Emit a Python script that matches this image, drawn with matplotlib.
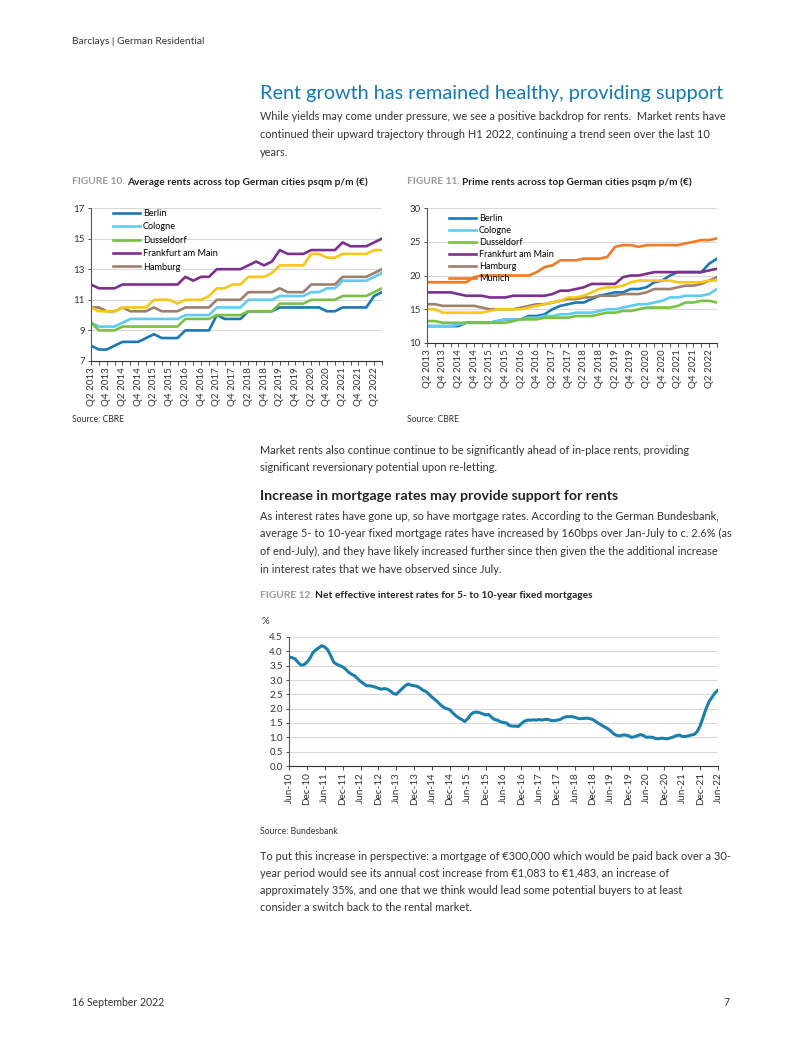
import matplotlib
matplotlib.use("Agg")
import matplotlib.pyplot as plt

plt.rcParams['font.family'] = ['Lato', 'DejaVu Sans']

W, H = 802, 1037

# ---- Figure 10 data: average rents (EUR psqm p/m), Q2 2013 .. Q3 2022
berlin_avg = [8.0, 7.75, 7.75, 8.0, 8.25, 8.25, 8.25, 8.5, 8.75, 8.5, 8.5, 8.5, 9.0, 9.0, 9.0, 9.0,
              10.0, 9.75, 9.75, 9.75, 10.25, 10.25, 10.25, 10.25, 10.5, 10.5, 10.5, 10.5, 10.5, 10.5,
              10.25, 10.25, 10.5, 10.5, 10.5, 10.5, 11.25, 11.5]
cologne_avg = [9.5, 9.25, 9.25, 9.25, 9.5, 9.75, 9.75, 9.75, 9.75, 9.75, 9.75, 9.75, 10.0, 10.0, 10.0, 10.0,
               10.5, 10.5, 10.5, 10.5, 11.0, 11.0, 11.0, 11.0, 11.25, 11.25, 11.25, 11.25, 11.5, 11.5,
               11.75, 11.75, 12.25, 12.25, 12.25, 12.25, 12.5, 12.75]
dussel_avg = [9.5, 9.0, 9.0, 9.0, 9.25, 9.25, 9.25, 9.25, 9.25, 9.25, 9.25, 9.25, 9.75, 9.75, 9.75, 9.75,
              10.0, 10.0, 10.0, 10.0, 10.25, 10.25, 10.25, 10.25, 10.75, 10.75, 10.75, 10.75, 11.0, 11.0,
              11.0, 11.0, 11.25, 11.25, 11.25, 11.25, 11.5, 11.75]
frankfurt_avg = [12.0, 11.75, 11.75, 11.75, 12.0, 12.0, 12.0, 12.0, 12.0, 12.0, 12.0, 12.0, 12.5, 12.25, 12.5, 12.5,
                 13.0, 13.0, 13.0, 13.0, 13.25, 13.5, 13.25, 13.5, 14.25, 14.0, 14.0, 14.0, 14.25, 14.25,
                 14.25, 14.25, 14.75, 14.5, 14.5, 14.5, 14.75, 15.0]
hamburg_avg = [10.5, 10.5, 10.25, 10.25, 10.5, 10.25, 10.25, 10.25, 10.5, 10.25, 10.25, 10.25, 10.5, 10.5, 10.5, 10.5,
               11.0, 11.0, 11.0, 11.0, 11.5, 11.5, 11.5, 11.5, 11.75, 11.5, 11.5, 11.5, 12.0, 12.0,
               12.0, 12.0, 12.5, 12.5, 12.5, 12.5, 12.75, 13.0]
yellow_avg = [10.5, 10.25, 10.25, 10.25, 10.5, 10.5, 10.5, 10.5, 11.0, 11.0, 11.0, 10.75, 11.0, 11.0, 11.0, 11.25,
              11.75, 11.75, 12.0, 12.0, 12.5, 12.5, 12.5, 12.75, 13.25, 13.25, 13.25, 13.25, 14.0, 14.0,
              13.75, 13.75, 14.0, 14.0, 14.0, 14.0, 14.25, 14.25]

# ---- Figure 11 data: prime rents
berlin_prime = [12.5, 12.5, 12.5, 12.5, 12.5, 13.0, 13.0, 13.0, 13.0, 13.25, 13.5, 13.5, 13.5, 14.0, 14.0, 14.25,
                15.0, 15.5, 15.75, 16.0, 16.0, 16.5, 17.0, 17.25, 17.5, 17.5, 18.0, 18.0, 18.25, 19.0,
                19.25, 20.0, 20.5, 20.5, 20.5, 20.5, 21.75, 22.5]
cologne_prime = [12.5, 12.5, 12.5, 12.5, 12.75, 13.0, 13.0, 13.0, 13.0, 13.25, 13.5, 13.5, 13.5, 13.75, 13.75, 14.0,
                 14.0, 14.25, 14.25, 14.5, 14.5, 14.5, 14.75, 15.0, 15.0, 15.25, 15.5, 15.75, 15.75, 16.0,
                 16.25, 16.75, 16.75, 17.0, 17.0, 17.0, 17.25, 18.0]
dussel_prime = [13.25, 13.25, 13.0, 13.0, 13.0, 13.0, 13.0, 13.0, 13.0, 13.0, 13.0, 13.25, 13.5, 13.5, 13.5, 13.75,
                13.75, 13.75, 13.75, 14.0, 14.0, 14.0, 14.25, 14.5, 14.5, 14.75, 14.75, 15.0, 15.25, 15.25,
                15.25, 15.25, 15.5, 16.0, 16.0, 16.25, 16.25, 16.0]
frankfurt_prime = [17.5, 17.5, 17.5, 17.5, 17.25, 17.0, 17.0, 17.0, 16.75, 16.75, 16.75, 17.0, 17.0, 17.0, 17.0, 17.0,
                   17.25, 17.75, 17.75, 18.0, 18.25, 18.75, 18.75, 18.75, 18.75, 19.75, 20.0, 20.0, 20.25, 20.5,
                   20.5, 20.5, 20.5, 20.5, 20.5, 20.5, 20.75, 21.0]
hamburg_prime = [15.75, 15.75, 15.5, 15.5, 15.5, 15.5, 15.5, 15.25, 15.0, 15.0, 15.0, 15.0, 15.25, 15.5, 15.75, 15.75,
                 16.0, 16.25, 16.5, 16.5, 16.75, 16.75, 17.0, 17.0, 17.0, 17.25, 17.25, 17.25, 17.5, 18.0,
                 18.0, 18.0, 18.25, 18.5, 18.5, 18.75, 19.25, 19.75]
munich_prime = [19.0, 19.0, 19.0, 19.0, 19.0, 19.0, 19.75, 20.0, 20.0, 20.0, 20.0, 20.0, 20.0, 20.0, 20.5, 21.25,
                21.5, 22.25, 22.25, 22.25, 22.5, 22.5, 22.5, 22.75, 24.25, 24.5, 24.5, 24.25, 24.5, 24.5,
                24.5, 24.5, 24.5, 24.75, 25.0, 25.25, 25.25, 25.5]
yellow_prime = [15.0, 15.0, 14.5, 14.5, 14.5, 14.5, 14.5, 14.5, 14.75, 15.0, 15.0, 15.0, 15.0, 15.25, 15.5, 15.75,
                16.0, 16.25, 16.75, 16.75, 17.0, 17.5, 18.0, 18.25, 18.25, 18.5, 19.0, 19.25, 19.25, 19.25,
                19.25, 19.25, 19.0, 19.0, 19.0, 19.0, 19.25, 19.25]

quarter_labels = ["Q2 2013", "Q4 2013", "Q2 2014", "Q4 2014", "Q2 2015", "Q4 2015", "Q2 2016", "Q4 2016",
                  "Q2 2017", "Q4 2017", "Q2 2018", "Q4 2018", "Q2 2019", "Q4 2019", "Q2 2020", "Q4 2020",
                  "Q2 2021", "Q4 2021", "Q2 2022"]

# ---- Figure 12 data: mortgage rates (%), monthly Jun-10 .. Jun-22
mortgage = [3.80, 3.78, 3.74, 3.62, 3.52, 3.53, 3.62, 3.75, 3.95, 4.05, 4.12, 4.20, 4.15, 4.05, 3.85, 3.62,
            3.55, 3.50, 3.46, 3.38, 3.27, 3.20, 3.15, 3.05, 2.95, 2.88, 2.80, 2.80, 2.78, 2.75, 2.71, 2.68,
            2.70, 2.68, 2.62, 2.53, 2.50, 2.60, 2.70, 2.80, 2.86, 2.82, 2.80, 2.78, 2.72, 2.64, 2.60, 2.50,
            2.40, 2.32, 2.22, 2.12, 2.04, 2.00, 1.96, 1.85, 1.75, 1.68, 1.62, 1.55, 1.65, 1.80, 1.87, 1.88,
            1.86, 1.82, 1.78, 1.80, 1.70, 1.62, 1.60, 1.54, 1.52, 1.50, 1.41, 1.39, 1.39, 1.38, 1.48, 1.56,
            1.60, 1.60, 1.61, 1.60, 1.62, 1.60, 1.63, 1.62, 1.59, 1.58, 1.60, 1.62, 1.68, 1.72, 1.72, 1.72,
            1.70, 1.66, 1.65, 1.66, 1.67, 1.65, 1.62, 1.55, 1.48, 1.42, 1.36, 1.30, 1.22, 1.12, 1.07, 1.05,
            1.08, 1.08, 1.05, 1.00, 1.02, 1.06, 1.10, 1.06, 1.00, 1.01, 1.00, 0.96, 0.95, 0.97, 0.96, 0.95,
            0.98, 1.01, 1.06, 1.08, 1.03, 1.03, 1.05, 1.08, 1.10, 1.20, 1.40, 1.70, 2.00, 2.25, 2.40, 2.55,
            2.65]
month_labels = ["Jun-10", "Dec-10", "Jun-11", "Dec-11", "Jun-12", "Dec-12", "Jun-13", "Dec-13", "Jun-14",
                "Dec-14", "Jun-15", "Dec-15", "Jun-16", "Dec-16", "Jun-17", "Dec-17", "Jun-18", "Dec-18",
                "Jun-19", "Dec-19", "Jun-20", "Dec-20", "Jun-21", "Dec-21", "Jun-22"]

C_BERLIN = "#1a78b4"
C_COLOGNE = "#5ecbf3"
C_DUSSEL = "#79c043"
C_FRANK = "#7d2f8f"
C_HAMBURG = "#9c7f6f"
C_YELLOW = "#f7c716"
C_MUNICH = "#f47920"
TXT = "#333333"
BLUE = "#1479b5"
GRID = "#d9d9d9"
BODY = 7.9

fig = plt.figure(figsize=(W / 100, H / 100), dpi=100)
renderer = fig.canvas.get_renderer()


def ptext(x, y, s, **kw):
    # place text by page pixel coordinates (y from top)
    kw.setdefault("va", "center")
    kw.setdefault("color", TXT)
    return fig.text(x / W, 1 - y / H, s, **kw)


def caption(x, y, num, title):
    t = ptext(x, y, num, fontsize=7.3, weight="bold", color="#9a9a9a")
    w = t.get_window_extent(renderer).width
    ptext(x + w + 2, y, title, fontsize=7.3, weight="bold", color="#222222")


def axes_px(left, top, right, bottom):
    return fig.add_axes([left / W, 1 - bottom / H, (right - left) / W, (bottom - top) / H])


def style_axes(ax, xlab=7.0):
    for s in ["top", "right"]:
        ax.spines[s].set_visible(False)
    ax.spines["left"].set_color("#555555")
    ax.spines["bottom"].set_color("#333333")
    ax.spines["left"].set_linewidth(0.8)
    ax.spines["bottom"].set_linewidth(0.8)
    ax.grid(axis="y", color=GRID, linewidth=0.8)
    ax.set_axisbelow(True)
    ax.tick_params(axis="y", labelsize=7.0, length=2.5, width=0.6, pad=2, colors="#333333")
    ax.tick_params(axis="x", which="both", labelsize=xlab, length=3, width=0.6, pad=1.5,
                   colors="#333333", labelrotation=90)
    ax.tick_params(axis="x", which="minor", length=3)


# ---- header text
ptext(72, 42, "Barclays | German Residential", fontsize=7.3)
ptext(260, 93, "Rent growth has remained healthy, providing support", fontsize=14.3, color=BLUE)
p1 = ["While yields may come under pressure, we see a positive backdrop for rents.  Market rents have",
      "continued their upward trajectory through H1 2022, continuing a trend seen over the last 10",
      "years."]
for k, line in enumerate(p1):
    ptext(260, 117 + k * 18, line, fontsize=BODY)

caption(72, 182, "FIGURE 10.", "Average rents across top German cities psqm p/m (€)")
caption(407, 182, "FIGURE 11.", "Prime rents across top German cities psqm p/m (€)")

# ---- Figure 10
ax1 = axes_px(91, 208, 382, 361)
x1 = list(range(len(berlin_avg)))
ax1.plot(x1, berlin_avg, color=C_BERLIN, lw=1.9, label="Berlin")
ax1.plot(x1, cologne_avg, color=C_COLOGNE, lw=1.9, label="Cologne")
ax1.plot(x1, dussel_avg, color=C_DUSSEL, lw=1.9, label="Dusseldorf")
ax1.plot(x1, frankfurt_avg, color=C_FRANK, lw=1.9, label="Frankfurt am Main")
ax1.plot(x1, hamburg_avg, color=C_HAMBURG, lw=1.9, label="Hamburg")
ax1.plot(x1, yellow_avg, color=C_YELLOW, lw=1.9, label="_nolegend_")
ax1.set_xlim(0, len(x1) - 1)
ax1.set_ylim(7, 17)
ax1.set_yticks([7, 9, 11, 13, 15, 17])
ax1.set_xticks(range(0, len(x1), 2)[:len(quarter_labels)])
ax1.set_xticklabels(quarter_labels)
ax1.set_xticks(x1, minor=True)
style_axes(ax1)
ax1.legend(loc="upper left", bbox_to_anchor=(0.055, 1.035), frameon=False, fontsize=6.6,
           handlelength=2.9, handletextpad=0.3, labelspacing=0.48, borderpad=0.2)

# ---- Figure 11
ax2 = axes_px(427, 208, 717, 343)
x2 = list(range(len(berlin_prime)))
ax2.plot(x2, berlin_prime, color=C_BERLIN, lw=1.9, label="Berlin")
ax2.plot(x2, cologne_prime, color=C_COLOGNE, lw=1.9, label="Cologne")
ax2.plot(x2, dussel_prime, color=C_DUSSEL, lw=1.9, label="Dusseldorf")
ax2.plot(x2, frankfurt_prime, color=C_FRANK, lw=1.9, label="Frankfurt am Main")
ax2.plot(x2, hamburg_prime, color=C_HAMBURG, lw=1.9, label="Hamburg")
ax2.plot(x2, munich_prime, color=C_MUNICH, lw=1.9, label="Munich")
ax2.plot(x2, yellow_prime, color=C_YELLOW, lw=1.9, label="_nolegend_")
ax2.set_xlim(0, len(x2) - 1)
ax2.set_ylim(10, 30)
ax2.set_yticks([10, 15, 20, 25, 30])
ax2.set_xticks(range(0, len(x2), 2)[:len(quarter_labels)])
ax2.set_xticklabels(quarter_labels)
ax2.set_xticks(x2, minor=True)
style_axes(ax2)
ax2.legend(loc="upper left", bbox_to_anchor=(0.055, 1.0), frameon=False, fontsize=6.6,
           handlelength=2.9, handletextpad=0.3, labelspacing=0.32, borderpad=0.2)

ptext(72, 420, "Source: CBRE", fontsize=6.2)
ptext(407, 420, "Source: CBRE", fontsize=6.2)

# ---- middle text
p2 = ["Market rents also continue continue to be significantly ahead of in-place rents, providing",
      "significant reversionary potential upon re-letting."]
for k, line in enumerate(p2):
    ptext(260, 450 + k * 17.5, line, fontsize=BODY)

ptext(260, 496, "Increase in mortgage rates may provide support for rents", fontsize=10.2,
      weight="bold", color="#222222")
p3 = ["As interest rates have gone up, so have mortgage rates. According to the German Bundesbank,",
      "average 5- to 10-year fixed mortgage rates have increased by 160bps over Jan-July to c. 2.6% (as",
      "of end-July), and they have likely increased further since then given the the additional increase",
      "in interest rates that we have observed since July."]
for k, line in enumerate(p3):
    ptext(260, 516 + k * 17.7, line, fontsize=BODY)

caption(260, 595, "FIGURE 12.", "Net effective interest rates for 5- to 10-year fixed mortgages")
ptext(262, 621, "%", fontsize=7.0)

# ---- Figure 12
ax3 = axes_px(289, 637, 718, 766)
x3 = list(range(len(mortgage)))
ax3.plot(x3, mortgage, color="#1b7fae", lw=2.2, solid_capstyle="round")
ax3.set_xlim(0, len(x3) - 1)
ax3.set_ylim(0, 4.5)
ax3.set_yticks([0.0, 0.5, 1.0, 1.5, 2.0, 2.5, 3.0, 3.5, 4.0, 4.5])
ax3.set_yticklabels([f"{v:.1f}" for v in ax3.get_yticks()])
ax3.set_xticks(range(0, len(x3), 6)[:len(month_labels)])
ax3.set_xticklabels(month_labels)
style_axes(ax3, xlab=7.2)

ptext(260, 832, "Source: Bundesbank", fontsize=6.2)

p4 = ["To put this increase in perspective: a mortgage of €300,000 which would be paid back over a 30-",
      "year period would see its annual cost increase from €1,083 to €1,483, an increase of",
      "approximately 35%, and one that we think would lead some potential buyers to at least",
      "consider a switch back to the rental market."]
for k, line in enumerate(p4):
    ptext(260, 856 + k * 17.3, line, fontsize=BODY)

ptext(72, 1003, "16 September 2022", fontsize=7.6)
ptext(730, 1003, "7", fontsize=7.6, ha="right")

fig.savefig("out.png", dpi=100)
